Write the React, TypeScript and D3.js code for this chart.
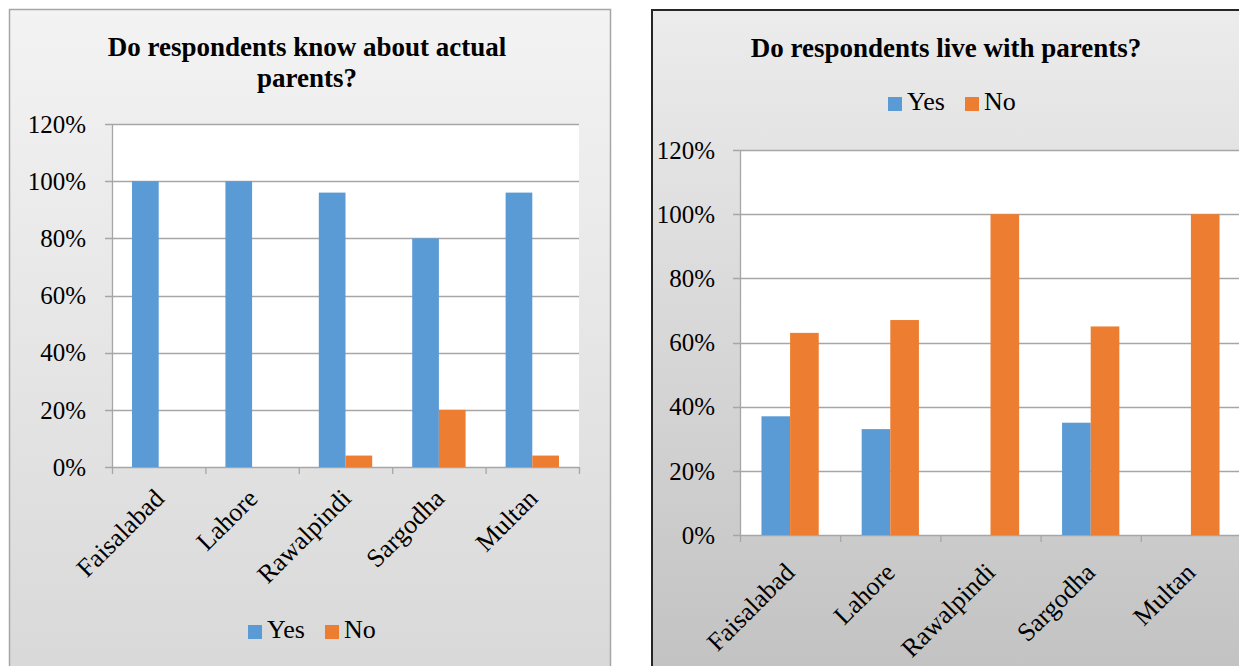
import React from "react";
import * as d3 from "d3";

const categories = ["Faisalabad", "Lahore", "Rawalpindi", "Sargodha", "Multan"];
const seriesNames = ["Yes", "No"];
const knowYes = [1.0, 1.0, 0.96, 0.8, 0.96];
const knowNo = [0, 0, 0.04, 0.2, 0.04];
const liveYes = [0.37, 0.33, 0, 0.35, 0];
const liveNo = [0.63, 0.67, 1.0, 0.65, 1.0];
const yTicks = [0, 0.2, 0.4, 0.6, 0.8, 1.0, 1.2];
const colors = ["#5b9bd5", "#ed7d31"];

const FONT = "'Liberation Serif', 'Times New Roman', serif";
const fmt = d3.format(".0%");

type PanelProps = {
  id: string;
  frame: { x: number; y: number; w: number; h: number };
  frameStroke: string;
  frameStrokeWidth: number;
  gradTop: string;
  gradBottom: string;
  titleLines: string[];
  titleX: number;
  titleY: number[];
  plot: { left: number; right: number; top: number; bottom: number };
  yes: number[];
  no: number[];
  legend: { x: number; y: number };
  labelOffset: { dx: number; dy: number };
  tickLabelGap: number;
};

function Panel(p: PanelProps) {
  const x = d3
    .scaleBand<string>()
    .domain(categories)
    .range([p.plot.left, p.plot.right])
    .paddingInner(0)
    .paddingOuter(0);
  const x1 = d3
    .scaleBand<string>()
    .domain(seriesNames)
    .range([0, x.bandwidth()])
    .paddingInner(0)
    .paddingOuter(0.75);
  const y = d3.scaleLinear().domain([0, 1.2]).range([p.plot.bottom, p.plot.top]);
  const series = [p.yes, p.no];
  const gridColor = "#a6a6a6";
  const boundaries = categories.map((c) => x(c)!).concat([p.plot.right]);

  return (
    <g>
      <defs>
        <linearGradient id={p.id + "-bg"} x1="0" y1="0" x2="0" y2="1">
          <stop offset="0%" stopColor={p.gradTop} />
          <stop offset="100%" stopColor={p.gradBottom} />
        </linearGradient>
      </defs>
      <rect
        x={p.frame.x}
        y={p.frame.y}
        width={p.frame.w}
        height={p.frame.h}
        fill={`url(#${p.id}-bg)`}
        stroke={p.frameStroke}
        strokeWidth={p.frameStrokeWidth}
      />
      {p.titleLines.map((t, i) => (
        <text
          key={i}
          x={p.titleX}
          y={p.titleY[i]}
          textAnchor="middle"
          fontFamily={FONT}
          fontWeight="bold"
          fontSize={27}
          fill="#000"
        >
          {t}
        </text>
      ))}
      <rect
        x={p.plot.left}
        y={p.plot.top}
        width={p.plot.right - p.plot.left}
        height={p.plot.bottom - p.plot.top}
        fill="#ffffff"
      />
      {yTicks.map((t) => (
        <g key={t}>
          <line
            x1={p.plot.left - 7}
            x2={p.plot.right}
            y1={Math.round(y(t)) + 0.5}
            y2={Math.round(y(t)) + 0.5}
            stroke={gridColor}
            strokeWidth={1.3}
          />
          <text
            x={p.plot.left - p.tickLabelGap}
            y={y(t)}
            dy="0.35em"
            textAnchor="end"
            fontFamily={FONT}
            fontSize={25}
            fill="#000"
          >
            {fmt(t)}
          </text>
        </g>
      ))}
      <line
        x1={p.plot.left + 0.5}
        x2={p.plot.left + 0.5}
        y1={p.plot.top}
        y2={p.plot.bottom}
        stroke={gridColor}
        strokeWidth={1.3}
      />
      {boundaries.map((b, i) => (
        <line
          key={i}
          x1={b + 0.5}
          x2={b + 0.5}
          y1={p.plot.bottom}
          y2={p.plot.bottom + 7}
          stroke={gridColor}
          strokeWidth={1.3}
        />
      ))}
      {categories.map((c, ci) =>
        series.map((s, si) => {
          const v = s[ci];
          if (!v) return null;
          return (
            <rect
              key={c + si}
              x={x(c)! + x1(seriesNames[si])!}
              y={y(v)}
              width={x1.bandwidth()}
              height={y(0) - y(v)}
              fill={colors[si]}
            />
          );
        })
      )}
      {categories.map((c) => {
        const cx = x(c)! + x.bandwidth() / 2;
        return (
          <text
            key={c}
            transform={`translate(${cx + p.labelOffset.dx},${p.plot.bottom + p.labelOffset.dy}) rotate(-45)`}
            textAnchor="end"
            fontFamily={FONT}
            fontSize={26}
            fill="#000"
          >
            {c}
          </text>
        );
      })}
      {seriesNames.map((n, i) => {
        const lx = p.legend.x + i * 77;
        return (
          <g key={n}>
            <rect x={lx} y={p.legend.y - 13} width={14} height={14} fill={colors[i]} />
            <text
              x={lx + 19}
              y={p.legend.y}
              fontFamily={FONT}
              fontSize={26}
              fill="#000"
            >
              {n}
            </text>
          </g>
        );
      })}
    </g>
  );
}

export default function App() {
  return (
    <svg
      width={1239}
      height={666}
      style={{ position: "absolute", left: 0, top: 0, display: "block" }}
    >
      <rect x={0} y={0} width={1239} height={666} fill="#ffffff" />
      <Panel
        id="left"
        frame={{ x: 9.5, y: 9.5, w: 601, h: 680 }}
        frameStroke="#a6a6a6"
        frameStrokeWidth={1.5}
        gradTop="#f3f3f3"
        gradBottom="#d8d8d8"
        titleLines={["Do respondents know about actual", "parents?"]}
        titleX={307}
        titleY={[56, 87]}
        plot={{ left: 112, right: 579, top: 124, bottom: 467 }}
        yes={knowYes}
        no={knowNo}
        legend={{ x: 248, y: 638 }}
        labelOffset={{ dx: 7, dy: 33 }}
        tickLabelGap={26}
      />
      <Panel
        id="right"
        frame={{ x: 652, y: 10, w: 700, h: 700 }}
        frameStroke="#262626"
        frameStrokeWidth={2}
        gradTop="#ececec"
        gradBottom="#c0c0c0"
        titleLines={["Do respondents live with parents?"]}
        titleX={946}
        titleY={[57]}
        plot={{ left: 740, right: 1241, top: 150, bottom: 535 }}
        yes={liveYes}
        no={liveNo}
        legend={{ x: 888, y: 110 }}
        labelOffset={{ dx: 6, dy: 39 }}
        tickLabelGap={25}
      />
    </svg>
  );
}
